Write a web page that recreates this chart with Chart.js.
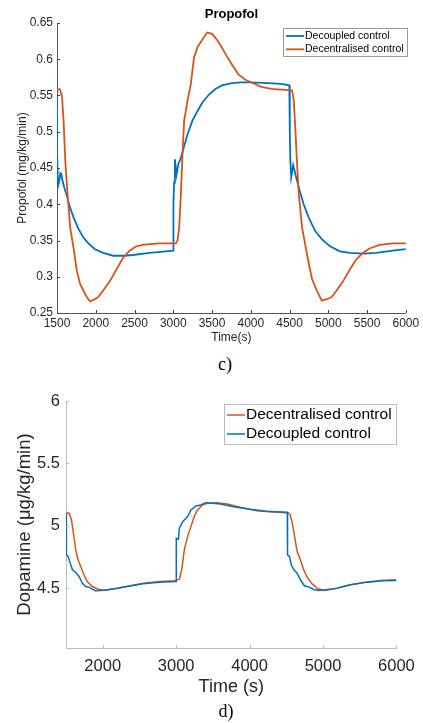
<!DOCTYPE html>
<html><head><meta charset="utf-8">
<script src="https://cdn.jsdelivr.net/npm/chart.js@4.4.0/dist/chart.umd.min.js"></script>
<style>
html,body{margin:0;padding:0;background:#fff;}
body{width:423px;height:723px;position:relative;overflow:hidden;}
#c1{position:absolute;left:0;top:0;}
#c2{position:absolute;left:0;top:370px;}
.cap{position:absolute;width:40px;text-align:center;font-family:"Liberation Serif","DejaVu Serif",serif;font-size:18px;line-height:20px;color:#000;}
</style></head><body>
<canvas id="c1" width="423" height="350"></canvas>
<div class="cap" style="left:205px;top:354px">c)</div>
<canvas id="c2" width="423" height="340"></canvas>
<div class="cap" style="left:206px;top:701px">d)</div>
<script>
// ---------- Data: Propofol (top) ----------
const propDecoupledT = [1500,1502,1513,1530,1543,1555,1572,1594,1628,1670,1713,1777,1841,1905,1990,2096,2224,2352,2480,2693,2906,2998,3002,3010,3021,3042,3064,3098,3140,3182,3246,3310,3373,3458,3543,3628,3755,3882,4009,4221,4391,4497,4503,4510,4521,4546,4576,4619,4682,4746,4831,4916,5022,5150,5277,5447,5617,5830,6000];
const propDecoupledV = [0.553,0.469,0.425,0.432,0.443,0.442,0.432,0.423,0.411,0.395,0.382,0.366,0.354,0.346,0.338,0.333,0.329,0.329,0.330,0.333,0.335,0.336,0.400,0.430,0.462,0.441,0.455,0.464,0.480,0.496,0.515,0.528,0.540,0.551,0.559,0.564,0.567,0.568,0.568,0.567,0.566,0.564,0.500,0.460,0.437,0.454,0.441,0.423,0.400,0.382,0.363,0.352,0.342,0.335,0.333,0.332,0.333,0.336,0.338];
const propDecentralT = [1500,1534,1564,1585,1607,1636,1670,1713,1756,1798,1841,1883,1926,1969,2032,2096,2182,2267,2352,2437,2522,2608,2693,2821,3000,3034,3055,3076,3098,3119,3140,3182,3225,3267,3310,3373,3437,3500,3564,3628,3691,3755,3840,3924,4009,4136,4264,4391,4518,4534,4555,4576,4597,4619,4661,4725,4789,4852,4916,4980,5044,5107,5192,5277,5362,5447,5532,5660,5830,6000];
const propDecentralV = [0.558,0.559,0.549,0.515,0.460,0.414,0.368,0.340,0.308,0.290,0.281,0.272,0.266,0.268,0.272,0.281,0.294,0.310,0.326,0.336,0.342,0.344,0.345,0.346,0.346,0.346,0.350,0.368,0.414,0.469,0.515,0.542,0.565,0.602,0.616,0.627,0.637,0.635,0.627,0.616,0.604,0.593,0.579,0.572,0.568,0.562,0.559,0.558,0.557,0.557,0.542,0.501,0.455,0.414,0.368,0.331,0.297,0.281,0.267,0.269,0.272,0.281,0.294,0.310,0.324,0.333,0.339,0.344,0.346,0.346];
const propXTicks = [1500,2000,2500,3000,3500,4000,4500,5000,5500,6000];
const propYTicks = [0.25,0.3,0.35,0.4,0.45,0.5,0.55,0.6,0.65];

// ---------- Data: Dopamine (bottom) ----------
const dopDecentralT = [1500,1543,1575,1601,1633,1664,1700,1745,1789,1857,1924,2013,2148,2327,2551,2775,2977,3044,3076,3111,3156,3201,3246,3290,3358,3425,3559,3694,3873,4097,4321,4522,4550,4575,4600,4625,4650,4692,4737,4791,4858,4925,5015,5149,5328,5552,5776,6000];
const dopDecentralV = [5.105,5.100,5.046,4.940,4.807,4.727,4.673,4.607,4.553,4.513,4.495,4.481,4.495,4.513,4.540,4.553,4.559,4.572,4.647,4.807,4.913,4.993,5.073,5.126,5.166,5.180,5.185,5.174,5.148,5.121,5.110,5.105,5.090,5.040,4.960,4.870,4.790,4.727,4.647,4.580,4.532,4.497,4.481,4.492,4.521,4.545,4.561,4.567];
const dopDecoupledT = [1500,1504,1507,1530,1557,1588,1633,1678,1722,1767,1812,1857,1901,1968,2058,2192,2327,2551,2775,2999,3002,3031,3044,3089,3156,3201,3268,3335,3402,3492,3604,3783,4007,4231,4500,4513,4517,4545,4567,4603,4647,4692,4746,4813,4880,4947,5037,5194,5373,5597,5821,6000];
const dopDecoupledV = [5.100,4.900,4.767,4.753,4.700,4.647,4.625,4.593,4.540,4.513,4.508,4.492,4.479,4.481,4.487,4.497,4.513,4.535,4.548,4.553,4.900,4.892,4.980,5.033,5.073,5.126,5.158,5.166,5.185,5.180,5.174,5.153,5.132,5.116,5.108,5.108,4.767,4.753,4.687,4.647,4.620,4.567,4.519,4.508,4.487,4.481,4.487,4.500,4.527,4.548,4.559,4.561];
const dopXTicks = [2000,3000,4000,5000,6000];
const dopYTicks = [4.5,5,5.5,6];

const BLUE = '#0072BD', ORANGE = '#D95319';
const FONT = "'Liberation Sans', Arial, Helvetica, sans-serif";
const pts = (t, v) => t.map((x, i) => ({x, y: v[i]}));
const fmt = v => String(Number(Number(v).toFixed(2)));

const inTicks = {
  id: 'inTicks',
  afterDatasetsDraw(chart, args, o) {
    const {ctx, chartArea: a, scales: {x, y}} = chart;
    ctx.save();
    ctx.strokeStyle = o.color; ctx.lineWidth = 1;
    ctx.beginPath();
    x.ticks.forEach(t => { const p = Math.round(x.getPixelForValue(t.value)) + 0.5; ctx.moveTo(p, a.bottom); ctx.lineTo(p, a.bottom - o.len); });
    y.ticks.forEach(t => { const p = Math.round(y.getPixelForValue(t.value)) + 0.5; ctx.moveTo(a.left, p); ctx.lineTo(a.left + o.len, p); });
    ctx.stroke();
    ctx.restore();
  }
};
const boxLegend = {
  id: 'boxLegend',
  afterDraw(chart, args, o) {
    const ctx = chart.ctx;
    ctx.save();
    ctx.fillStyle = '#fff'; ctx.fillRect(o.x, o.y, o.w, o.h);
    ctx.strokeStyle = o.border; ctx.lineWidth = 1; ctx.strokeRect(o.x + 0.5, o.y + 0.5, o.w, o.h);
    ctx.font = o.font; ctx.textBaseline = 'middle'; ctx.textAlign = 'left';
    o.order.forEach((di, i) => {
      const ds = chart.data.datasets[di];
      const cy = o.y + o.rowTop + i * o.rowGap;
      ctx.strokeStyle = ds.borderColor; ctx.lineWidth = ds.borderWidth;
      ctx.beginPath(); ctx.moveTo(o.x + o.l0, cy); ctx.lineTo(o.x + o.l1, cy); ctx.stroke();
      ctx.fillStyle = '#000'; ctx.fillText(ds.label, o.x + o.tx, cy);
    });
    ctx.restore();
  }
};
const setTicks = arr => scale => { scale.ticks = arr.map(v => ({value: v})); };

new Chart(document.getElementById('c1'), {
  type: 'line',
  data: { datasets: [
    {label: 'Decoupled control', data: pts(propDecoupledT, propDecoupledV), borderColor: BLUE, borderWidth: 1.8, pointRadius: 0, tension: 0, order: 1},
    {label: 'Decentralised control', data: pts(propDecentralT, propDecentralV), borderColor: ORANGE, borderWidth: 1.8, pointRadius: 0, tension: 0, order: 0}
  ]},
  options: {
    responsive: false, animation: false, events: [],
    layout: {padding: {left: 0, right: 13, top: 0, bottom: 0}},
    plugins: {
      legend: {display: false}, tooltip: {enabled: false},
      title: {display: true, text: 'Propofol', fullSize: false, color: '#000', font: {family: FONT, size: 13, weight: 'bold'}, padding: {top: 6.2, bottom: 1.2}},
      inTicks: {color: '#444', len: 3},
      boxLegend: {x: 283, y: 28, w: 124, h: 28, border: '#999', font: "10.5px " + FONT, rowTop: 8, rowGap: 13.3, l0: 3, l1: 21, tx: 22, order: [0, 1]}
    },
    scales: {
      x: {type: 'linear', min: 1500, max: 6000, afterBuildTicks: setTicks(propXTicks), afterFit: s => { s.height = 37; },
        grid: {display: false, drawTicks: false}, border: {display: true, color: '#555', width: 1},
        ticks: {autoSkip: false, maxRotation: 0, padding: 3.8, color: '#262626', font: {family: FONT, size: 12}, callback: v => String(v)},
        title: {display: true, text: 'Time(s)', color: '#262626', font: {family: FONT, size: 12}, padding: {top: 0, bottom: 4.8}}},
      y: {type: 'linear', min: 0.25, max: 0.65, afterBuildTicks: setTicks(propYTicks), afterFit: s => { s.width = 57; },
        grid: {display: false, drawTicks: false}, border: {display: true, color: '#555', width: 1},
        ticks: {autoSkip: false, padding: 4, color: '#262626', font: {family: FONT, size: 12}, callback: v => fmt(v)},
        title: {display: true, text: 'Propofol (mg/kg/min)', color: '#262626', font: {family: FONT, size: 12}, padding: {top: 15.8, bottom: 0}}}
    }
  },
  plugins: [inTicks, boxLegend]
});

new Chart(document.getElementById('c2'), {
  type: 'line',
  data: { datasets: [
    {label: 'Decentralised control', data: pts(dopDecentralT, dopDecentralV), borderColor: ORANGE, borderWidth: 1.5, pointRadius: 0, tension: 0, order: 1},
    {label: 'Decoupled control', data: pts(dopDecoupledT, dopDecoupledV), borderColor: BLUE, borderWidth: 1.5, pointRadius: 0, tension: 0, order: 0}
  ]},
  options: {
    responsive: false, animation: false, events: [],
    layout: {padding: {left: 0, right: 23, top: 31, bottom: 0}},
    plugins: {
      legend: {display: false}, tooltip: {enabled: false}, title: {display: false},
      inTicks: {color: '#bbb', len: 3},
      boxLegend: {x: 224, y: 34, w: 172, h: 40, border: '#bbb', font: "15.5px " + FONT, rowTop: 11, rowGap: 19, l0: 3, l1: 21, tx: 22, order: [0, 1]}
    },
    scales: {
      x: {type: 'linear', min: 1500, max: 6000, afterBuildTicks: setTicks(dopXTicks), afterFit: s => { s.height = 62; },
        grid: {display: false, drawTicks: false}, border: {display: true, color: '#bbb', width: 1},
        ticks: {autoSkip: false, maxRotation: 0, padding: 8.2, color: '#262626', font: {family: FONT, size: 16.5}, callback: v => String(v)},
        title: {display: true, text: 'Time (s)', color: '#262626', font: {family: FONT, size: 18}, padding: {top: 0, bottom: 12.2}}},
      y: {type: 'linear', min: 4.02, max: 6, afterBuildTicks: setTicks(dopYTicks), afterFit: s => { s.width = 66; },
        grid: {display: false, drawTicks: false}, border: {display: true, color: '#bbb', width: 1},
        ticks: {autoSkip: false, padding: 6, color: '#262626', font: {family: FONT, size: 16.5}, callback: v => fmt(v)},
        title: {display: true, text: 'Dopamine (\u03BCg/kg/min)', color: '#262626', font: {family: FONT, size: 18.5}, padding: {top: 13.9, bottom: 0}}}
    }
  },
  plugins: [inTicks, boxLegend]
});
</script>
</body></html>
